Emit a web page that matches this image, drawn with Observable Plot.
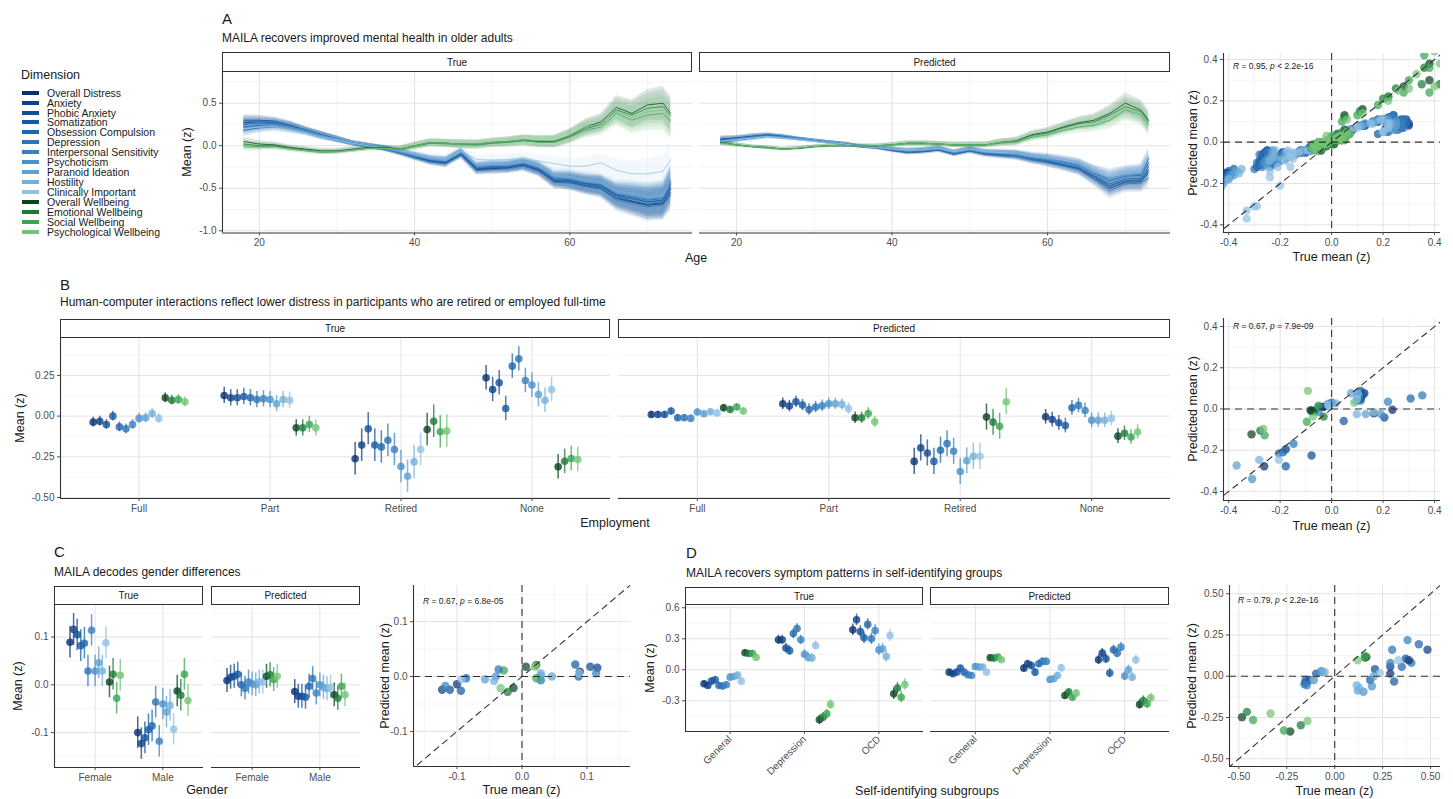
<!DOCTYPE html>
<html><head><meta charset="utf-8">
<script src="https://cdn.jsdelivr.net/npm/d3@7"></script>
<script src="https://cdn.jsdelivr.net/npm/@observablehq/plot@0.6"></script>
<style>
body{margin:0;background:#fff;font-family:"Liberation Sans",Arial,Helvetica,sans-serif;}
#root{position:relative;width:1453px;height:799px;overflow:hidden;background:#fff;}
.t{position:absolute;white-space:nowrap;line-height:1;}
.strip{position:absolute;box-sizing:border-box;border:1.3px solid #333;background:#fff;font-size:10px;color:#1a1a1a;display:flex;align-items:center;justify-content:center;}
.sw{position:absolute;width:17px;height:4px;}
svg{position:absolute;}
</style></head>
<body><div id="root"></div>
<script>
// ---------------- DATA ----------------
const dims = ["Overall Distress","Anxiety","Phobic Anxiety","Somatization","Obsession Compulsion","Depression","Interpersonal Sensitivity","Psychoticism","Paranoid Ideation","Hostility","Clinically Important","Overall Wellbeing","Emotional Wellbeing","Social Wellbeing","Psychological Wellbeing"];
const dimColors = ["#0b306e","#0d3f88","#114d98","#1659a3","#1f66ae","#2b74b8","#3881c1","#4b90c9","#5fa0d2","#76b0da","#92c2e3","#0b4220","#1b7a36","#3aa552","#74c476"];

// Panel A: mean (z) by age, per dimension
const ages = [18,20,22,24,26,28,30,32,34,36,38,40,42,44,46,48,50,52,54,56,58,60,62,64,66,68,70,72,73];
const aTrue = [
 [0.27,0.28,0.27,0.23,0.18,0.12,0.08,0.03,0.00,-0.03,-0.07,-0.13,-0.18,-0.20,-0.10,-0.28,-0.27,-0.26,-0.23,-0.29,-0.42,-0.43,-0.47,-0.50,-0.62,-0.66,-0.70,-0.68,-0.55],
 [0.30,0.30,0.29,0.24,0.18,0.13,0.08,0.03,0.00,-0.03,-0.08,-0.13,-0.18,-0.20,-0.09,-0.28,-0.26,-0.26,-0.22,-0.28,-0.41,-0.42,-0.46,-0.48,-0.60,-0.65,-0.69,-0.67,-0.50],
 [0.22,0.24,0.25,0.22,0.17,0.12,0.08,0.03,0.00,-0.03,-0.07,-0.12,-0.17,-0.19,-0.09,-0.26,-0.25,-0.25,-0.22,-0.27,-0.40,-0.41,-0.45,-0.47,-0.58,-0.62,-0.66,-0.64,-0.45],
 [0.18,0.21,0.22,0.20,0.16,0.11,0.07,0.03,0.00,-0.03,-0.07,-0.12,-0.17,-0.19,-0.08,-0.27,-0.25,-0.24,-0.21,-0.26,-0.38,-0.40,-0.44,-0.46,-0.57,-0.60,-0.64,-0.62,-0.42],
 [0.25,0.26,0.26,0.23,0.18,0.13,0.08,0.03,0.00,-0.03,-0.07,-0.12,-0.16,-0.18,-0.08,-0.25,-0.24,-0.24,-0.21,-0.27,-0.39,-0.40,-0.44,-0.47,-0.59,-0.62,-0.66,-0.65,-0.48],
 [0.28,0.29,0.28,0.24,0.19,0.13,0.08,0.03,0.00,-0.04,-0.08,-0.14,-0.19,-0.21,-0.11,-0.29,-0.28,-0.27,-0.24,-0.30,-0.43,-0.44,-0.48,-0.51,-0.64,-0.68,-0.72,-0.70,-0.58],
 [0.26,0.27,0.27,0.23,0.18,0.12,0.08,0.03,0.00,-0.03,-0.07,-0.12,-0.17,-0.19,-0.09,-0.26,-0.25,-0.25,-0.22,-0.27,-0.40,-0.42,-0.46,-0.48,-0.60,-0.63,-0.67,-0.66,-0.52],
 [0.21,0.23,0.24,0.21,0.17,0.12,0.07,0.03,0.00,-0.03,-0.07,-0.11,-0.16,-0.18,-0.08,-0.25,-0.23,-0.23,-0.20,-0.26,-0.38,-0.39,-0.43,-0.45,-0.56,-0.59,-0.63,-0.61,-0.46],
 [0.24,0.25,0.25,0.22,0.17,0.12,0.08,0.03,0.00,-0.03,-0.07,-0.12,-0.16,-0.18,-0.08,-0.24,-0.23,-0.23,-0.20,-0.25,-0.37,-0.38,-0.42,-0.44,-0.55,-0.58,-0.61,-0.60,-0.44],
 [0.20,0.22,0.23,0.20,0.16,0.11,0.07,0.03,0.00,-0.03,-0.06,-0.11,-0.15,-0.17,-0.07,-0.23,-0.22,-0.22,-0.19,-0.24,-0.35,-0.36,-0.40,-0.43,-0.53,-0.56,-0.60,-0.58,-0.40],
 [0.20,0.22,0.22,0.19,0.15,0.10,0.07,0.03,0.00,-0.02,-0.05,-0.09,-0.13,-0.15,-0.06,-0.16,-0.17,-0.16,-0.15,-0.18,-0.21,-0.24,-0.24,-0.20,-0.29,-0.33,-0.33,-0.30,-0.16],
 [0.05,0.02,0.01,-0.02,-0.04,-0.06,-0.06,-0.04,-0.02,-0.02,-0.04,0.00,0.04,0.03,0.02,0.02,0.04,0.05,0.07,0.05,0.05,0.12,0.22,0.28,0.45,0.38,0.48,0.50,0.38],
 [0.02,0.00,0.00,-0.03,-0.05,-0.07,-0.07,-0.05,-0.03,-0.02,-0.04,0.00,0.03,0.03,0.02,0.01,0.03,0.04,0.06,0.05,0.05,0.11,0.20,0.25,0.42,0.36,0.44,0.46,0.35],
 [0.00,-0.01,-0.01,-0.04,-0.06,-0.08,-0.07,-0.05,-0.03,-0.03,-0.05,-0.01,0.03,0.02,0.01,0.01,0.03,0.04,0.06,0.04,0.04,0.10,0.18,0.22,0.38,0.30,0.36,0.38,0.28],
 [-0.02,-0.02,-0.02,-0.04,-0.06,-0.07,-0.07,-0.05,-0.03,-0.03,-0.04,0.00,0.04,0.03,0.02,0.02,0.04,0.05,0.07,0.06,0.06,0.12,0.22,0.26,0.40,0.33,0.40,0.42,0.30]
];
const aPred = [
 [0.07,0.09,0.11,0.12,0.10,0.08,0.06,0.04,0.02,-0.01,-0.02,-0.05,-0.08,-0.07,-0.05,-0.10,-0.06,-0.10,-0.11,-0.12,-0.16,-0.19,-0.23,-0.27,-0.38,-0.50,-0.43,-0.42,-0.32],
 [0.08,0.09,0.11,0.13,0.11,0.08,0.06,0.04,0.02,-0.01,-0.02,-0.05,-0.07,-0.06,-0.04,-0.09,-0.05,-0.09,-0.10,-0.11,-0.15,-0.18,-0.22,-0.26,-0.36,-0.47,-0.41,-0.40,-0.28],
 [0.05,0.07,0.10,0.12,0.10,0.08,0.06,0.04,0.02,-0.01,-0.02,-0.04,-0.06,-0.05,-0.03,-0.08,-0.04,-0.08,-0.09,-0.10,-0.14,-0.16,-0.19,-0.23,-0.32,-0.41,-0.36,-0.35,-0.20],
 [0.04,0.07,0.09,0.11,0.10,0.08,0.06,0.04,0.02,-0.01,-0.02,-0.04,-0.06,-0.05,-0.03,-0.08,-0.04,-0.08,-0.09,-0.10,-0.13,-0.15,-0.18,-0.22,-0.31,-0.38,-0.34,-0.33,-0.15],
 [0.06,0.08,0.10,0.12,0.10,0.08,0.06,0.04,0.02,-0.01,-0.02,-0.05,-0.07,-0.06,-0.04,-0.09,-0.05,-0.09,-0.10,-0.11,-0.15,-0.17,-0.21,-0.25,-0.35,-0.45,-0.39,-0.38,-0.25],
 [0.07,0.09,0.11,0.13,0.11,0.09,0.06,0.04,0.02,-0.01,-0.03,-0.06,-0.08,-0.07,-0.05,-0.10,-0.06,-0.10,-0.12,-0.13,-0.17,-0.20,-0.24,-0.28,-0.40,-0.53,-0.45,-0.44,-0.38],
 [0.06,0.08,0.10,0.12,0.10,0.08,0.06,0.04,0.02,-0.01,-0.02,-0.05,-0.07,-0.06,-0.04,-0.09,-0.05,-0.09,-0.10,-0.12,-0.16,-0.18,-0.22,-0.26,-0.37,-0.48,-0.42,-0.41,-0.30],
 [0.05,0.07,0.09,0.11,0.10,0.08,0.06,0.04,0.02,-0.01,-0.02,-0.04,-0.06,-0.05,-0.03,-0.08,-0.04,-0.08,-0.09,-0.10,-0.14,-0.16,-0.20,-0.24,-0.33,-0.43,-0.37,-0.36,-0.22],
 [0.06,0.08,0.10,0.11,0.10,0.08,0.06,0.04,0.02,-0.01,-0.02,-0.04,-0.06,-0.05,-0.04,-0.08,-0.05,-0.08,-0.09,-0.11,-0.14,-0.16,-0.20,-0.24,-0.33,-0.42,-0.37,-0.36,-0.24],
 [0.05,0.07,0.09,0.11,0.09,0.08,0.06,0.04,0.02,-0.01,-0.02,-0.04,-0.06,-0.05,-0.03,-0.07,-0.04,-0.07,-0.08,-0.09,-0.13,-0.15,-0.18,-0.22,-0.31,-0.39,-0.34,-0.33,-0.18],
 [0.05,0.07,0.09,0.11,0.09,0.07,0.05,0.03,0.02,-0.01,-0.02,-0.04,-0.05,-0.05,-0.03,-0.07,-0.04,-0.07,-0.08,-0.09,-0.12,-0.14,-0.17,-0.21,-0.31,-0.37,-0.33,-0.31,-0.12],
 [0.04,0.01,-0.01,-0.02,-0.04,-0.03,-0.01,0.00,0.00,0.00,0.00,0.01,0.03,0.03,0.02,0.01,0.01,0.01,0.04,0.06,0.13,0.16,0.22,0.27,0.30,0.38,0.50,0.42,0.30],
 [0.04,0.01,-0.01,-0.02,-0.04,-0.03,-0.01,0.00,0.00,0.00,0.00,0.01,0.03,0.03,0.02,0.01,0.01,0.01,0.04,0.05,0.12,0.15,0.21,0.26,0.28,0.36,0.46,0.40,0.28],
 [0.03,0.01,-0.01,-0.03,-0.04,-0.03,-0.01,0.00,0.00,0.00,0.00,0.01,0.02,0.02,0.02,0.01,0.01,0.01,0.03,0.04,0.10,0.13,0.18,0.22,0.24,0.30,0.42,0.36,0.24],
 [0.03,0.01,-0.01,-0.02,-0.04,-0.03,-0.01,0.00,0.00,0.00,0.00,0.01,0.03,0.03,0.02,0.01,0.01,0.01,0.04,0.05,0.11,0.14,0.20,0.25,0.27,0.33,0.44,0.38,0.26]
];
// ribbon half-widths (blue / green dimensions)
const aTrueBlueHW  = [0.07,0.06,0.05,0.05,0.04,0.04,0.035,0.03,0.03,0.03,0.035,0.04,0.045,0.05,0.05,0.055,0.06,0.06,0.065,0.07,0.08,0.09,0.10,0.11,0.13,0.15,0.17,0.18,0.19];
const aTrueGreenHW = [0.05,0.04,0.035,0.03,0.03,0.03,0.03,0.03,0.03,0.03,0.035,0.04,0.045,0.045,0.05,0.05,0.05,0.055,0.06,0.065,0.07,0.08,0.09,0.10,0.14,0.16,0.18,0.20,0.20];
const aPredBlueHW  = [0.04,0.03,0.03,0.025,0.025,0.02,0.02,0.02,0.02,0.02,0.02,0.025,0.03,0.03,0.03,0.03,0.035,0.035,0.04,0.045,0.05,0.055,0.06,0.07,0.08,0.10,0.10,0.11,0.12];
const aPredGreenHW = [0.03,0.025,0.02,0.02,0.02,0.02,0.02,0.02,0.02,0.02,0.02,0.025,0.03,0.03,0.03,0.03,0.035,0.035,0.04,0.045,0.05,0.055,0.06,0.07,0.08,0.10,0.12,0.12,0.12];

// Panel B: employment
const bCats = ["Full","Part","Retired","None"];
const bTrueFull    = [-0.037,-0.031,-0.051,0.000,-0.066,-0.078,-0.051,-0.014,-0.010,0.016,-0.014,0.113,0.098,0.102,0.088];
const bTruePart    = [0.127,0.113,0.113,0.121,0.113,0.102,0.107,0.102,0.076,0.102,0.098,-0.072,-0.072,-0.051,-0.072];
const bTrueRetired = [-0.262,-0.178,-0.078,-0.178,-0.189,-0.148,-0.205,-0.309,-0.369,-0.281,-0.205,-0.082,-0.031,-0.096,-0.092];
const bTrueNone    = [0.236,0.164,0.205,0.047,0.307,0.352,0.219,0.191,0.133,0.098,0.164,-0.311,-0.277,-0.260,-0.266];
const bPredFull    = [0.010,0.010,0.010,0.031,-0.010,-0.010,-0.014,0.025,0.014,0.027,0.019,0.051,0.041,0.056,0.031];
const bPredPart    = [0.076,0.062,0.088,0.068,0.041,0.056,0.064,0.076,0.076,0.072,0.047,-0.010,-0.010,0.016,-0.035];
const bPredRetired = [-0.278,-0.195,-0.226,-0.278,-0.210,-0.169,-0.216,-0.340,-0.274,-0.247,-0.247,-0.006,-0.037,-0.062,0.088];
const bPredNone    = [-0.004,-0.021,-0.041,-0.058,0.051,0.066,0.035,-0.025,-0.025,-0.025,-0.014,-0.123,-0.105,-0.128,-0.097];
const bTrueErr = [0.03,0.05,0.10,0.075];
const bPredErr = [0.02,0.035,0.08,0.045];

// Panel C: gender
const cCats = ["Female","Male"];
const cTrueFemale = [0.089,0.116,0.105,0.082,0.087,0.029,0.114,0.029,0.046,0.029,0.088,0.006,0.022,-0.028,0.020];
const cTrueMale   = [-0.100,-0.123,-0.111,-0.094,-0.086,-0.036,-0.118,-0.040,-0.057,-0.043,-0.093,-0.013,-0.022,0.022,-0.033];
const cPredFemale = [0.009,0.016,0.018,0.022,0.000,-0.007,0.006,0.002,0.000,0.006,0.006,0.018,0.021,0.011,0.018];
const cPredMale   = [-0.014,-0.024,-0.024,-0.026,-0.003,0.013,-0.017,0.000,-0.005,-0.008,-0.005,-0.021,-0.028,-0.003,-0.021];
const cTrueErr = [0.033,0.033];
const cPredErr = [0.025,0.025];

// Panel D: self-identifying subgroups
const dCats = ["General","Depression","OCD"];
const dTrueGeneral    = [-0.135,-0.152,-0.110,-0.097,-0.152,-0.158,-0.145,-0.071,-0.065,-0.052,-0.110,0.165,0.158,0.158,0.120];
const dTrueDepression = [0.290,0.290,0.210,0.185,0.350,0.400,0.290,0.150,0.120,0.115,0.235,-0.484,-0.458,-0.426,-0.335];
const dTrueOCD        = [0.387,0.484,0.371,0.310,0.439,0.300,0.380,0.194,0.203,0.129,0.332,-0.232,-0.177,-0.265,-0.142];
const dPredGeneral    = [-0.023,-0.039,-0.023,0.016,-0.023,-0.048,-0.055,0.032,0.026,0.026,-0.023,0.116,0.113,0.123,0.097];
const dPredDepression = [0.016,0.058,0.042,-0.023,0.058,0.081,0.081,-0.094,-0.087,-0.055,0.019,-0.248,-0.216,-0.265,-0.226];
const dPredOCD        = [0.097,0.161,0.106,-0.032,0.194,0.161,0.219,-0.061,0.000,-0.071,0.097,-0.335,-0.297,-0.329,-0.271];
const dTrueErr = [0.03,0.045,0.055];
const dPredErr = [0.025,0.035,0.045];

// correlation annotations
const rLabelA = "<i>R</i> = 0.95, <i>p</i> &lt; 2.2e-16";
const rLabelB = "<i>R</i> = 0.67, <i>p</i> = 7.9e-09";
const rLabelC = "<i>R</i> = 0.67, <i>p</i> = 6.8e-05";
const rLabelD = "<i>R</i> = 0.79, <i>p</i> &lt; 2.2e-16";

// axis ticks
const aXTicks = [20,40,60], aXMinor = [30,50,70];
const aYTicks = [-1,-0.5,0,0.5], aYMinor = [-0.75,-0.25,0.25,0.75];
const s4Ticks = [-0.4,-0.2,0,0.2,0.4], s4Minor = [-0.3,-0.1,0.1,0.3];
const bYTicks = [-0.5,-0.25,0,0.25], bYMinor = [-0.375,-0.125,0.125,0.375];
const cYTicks = [-0.1,0,0.1], cYMinor = [-0.15,-0.05,0.05,0.15];
const dYTicks = [-0.3,0,0.3,0.6], dYMinor = [-0.45,-0.15,0.15,0.45];
const dsTicks = [-0.5,-0.25,0,0.25,0.5], dsMinor = [-0.375,-0.125,0.125,0.375];

// ---------------- HELPERS ----------------
const FONT = '"Liberation Sans", Arial, Helvetica, sans-serif';
const root = document.getElementById("root");
function txt(s, x, y, o = {}) {
  const d = document.createElement("div");
  d.className = "t";
  d.innerHTML = s;
  d.style.left = x + "px"; d.style.top = y + "px";
  d.style.fontSize = (o.size || 12) + "px";
  d.style.color = o.color || "#1a1a1a";
  const ax = o.anchor === "start" ? "0" : o.anchor === "end" ? "-100%" : "-50%";
  d.style.transform = `translate(${ax},-50%)` + (o.rotate ? ` rotate(${o.rotate}deg)` : "");
  root.appendChild(d);
}
function strip(label, x0, x1, y0, y1) {
  const d = document.createElement("div");
  d.className = "strip";
  d.textContent = label;
  Object.assign(d.style, {left: x0 + "px", top: y0 + "px", width: (x1 - x0) + "px", height: (y1 - y0) + "px"});
  root.appendChild(d);
}
const f1 = d => d.toFixed(1), f2 = d => d.toFixed(2);

function makePlot(o) {
  const mL = 50, mR = 14, mT = 10, mB = o.mB || 34;
  const w = o.px[1] - o.px[0], h = o.py[1] - o.py[0];
  const marks = [
    Plot.gridX(o.xMinor || [], {stroke: "#f1f1f1", strokeOpacity: 1, strokeWidth: 0.7}),
    Plot.gridY(o.yMinor || [], {stroke: "#f1f1f1", strokeOpacity: 1, strokeWidth: 0.7}),
    Plot.gridX(o.xTicks, {stroke: "#e3e3e3", strokeOpacity: 1, strokeWidth: 1}),
    Plot.gridY(o.yTicks, {stroke: "#e3e3e3", strokeOpacity: 1, strokeWidth: 1}),
    ...o.marks,
    Plot.ruleY([o.yDomain[0]], {stroke: "#333", strokeWidth: 1.1}),
    Plot.axisX(o.xTicks, {tickSize: 3, tickPadding: 3, tickFormat: o.xFmt, tickRotate: o.rot || 0, color: "#4d4d4d", label: null, fontSize: 10})
  ];
  if (o.showY) {
    marks.push(Plot.ruleX([o.xDomain[0]], {stroke: "#333", strokeWidth: 1.1}));
    marks.push(Plot.axisY(o.yTicks, {tickSize: 3, tickPadding: 3, tickFormat: o.yFmt, color: "#4d4d4d", label: null, fontSize: 10}));
  }
  const svg = Plot.plot({
    width: w + mL + mR, height: h + mT + mB,
    marginLeft: mL, marginRight: mR, marginTop: mT, marginBottom: mB,
    x: {domain: o.xDomain, axis: null}, y: {domain: o.yDomain, axis: null},
    color: {domain: dims, range: dimColors},
    style: {background: "transparent", fontFamily: FONT, fontSize: "10px", color: "#4d4d4d", overflow: "visible"},
    marks
  });
  svg.style.position = "absolute";
  svg.style.left = (o.px[0] - mL) + "px";
  svg.style.top = (o.py[0] - mT) + "px";
  svg.style.maxWidth = "none";
  root.appendChild(svg);
  return svg;
}

// ---------------- ROWS ----------------
function ageRows(vals, hwBlue, hwGreen) {
  const rows = [];
  vals.forEach((arr, di) => arr.forEach((v, i) => {
    const hw = (di < 11 ? hwBlue : hwGreen)[i];
    rows.push({age: ages[i], v, lo: v - hw, hi: v + hw, dim: dims[di]});
  }));
  return rows;
}
function dodgeRows(cats, errs, step) {
  const rows = [];
  cats.forEach((vals, ci) => vals.forEach((v, di) =>
    rows.push({x: ci + 1 + (di - 7) * step, v, lo: v - errs[ci], hi: v + errs[ci], dim: dims[di]})));
  return rows;
}
function pairRows(tCats, pCats) {
  const rows = [];
  tCats.forEach((vals, ci) => vals.forEach((v, di) => rows.push({tx: v, py: pCats[ci][di], dim: dims[di]})));
  return rows;
}
function pairAge() {
  const rows = [];
  aTrue.forEach((arr, di) => arr.forEach((v, i) => rows.push({tx: v, py: aPred[di][i], dim: dims[di]})));
  return rows;
}

const lineMarks = rows => [
  Plot.areaY(rows, {x: "age", y1: "lo", y2: "hi", z: "dim", fill: "dim", fillOpacity: 0.12}),
  Plot.line(rows, {x: "age", y: "v", z: "dim", stroke: "dim", strokeWidth: 0.9, strokeOpacity: 0.85})
];
const dotMarks = rows => [
  Plot.ruleX(rows, {x: "x", y1: "lo", y2: "hi", stroke: "dim", strokeWidth: 1.5, strokeOpacity: 0.75}),
  Plot.dot(rows, {x: "x", y: "v", fill: "dim", r: 3.8, fillOpacity: 0.8})
];
const scatterMarks = (rows, dom) => [
  Plot.dot(rows, {x: "tx", y: "py", fill: "dim", r: 4.2, fillOpacity: 0.72, clip: true}),
  Plot.ruleY([0], {stroke: "#333", strokeDasharray: "7,5", strokeWidth: 1.1}),
  Plot.ruleX([0], {stroke: "#333", strokeDasharray: "7,5", strokeWidth: 1.1}),
  Plot.line(dom, {x: d => d, y: d => d, stroke: "#333", strokeDasharray: "6,5", strokeWidth: 1.1, clip: true})
];

// ---------------- LEGEND ----------------
txt("Dimension", 21, 75, {anchor: "start", size: 12.5});
dims.forEach((d, i) => {
  const y = 92.7 + i * 9.93;
  const s = document.createElement("div");
  s.className = "sw";
  Object.assign(s.style, {left: "22px", top: (y - 2) + "px", background: dimColors[i]});
  root.appendChild(s);
  txt(d, 47, y, {anchor: "start", size: 10.5});
});

// ---------------- PANEL A ----------------
txt("A", 222, 18, {anchor: "start", size: 15});
txt("MAILA recovers improved mental health in older adults", 222, 38, {anchor: "start", size: 12});
const aXDom = [15.25, 75.8], aYDom = [-1.026, 0.861];
strip("True", 222, 692, 52, 72);
strip("Predicted", 699, 1170, 52, 72);
makePlot({px: [222, 692], py: [72, 232.5], xDomain: aXDom, yDomain: aYDom, xTicks: aXTicks, xMinor: aXMinor, yTicks: aYTicks, yMinor: aYMinor, yFmt: f1, showY: true, marks: lineMarks(ageRows(aTrue, aTrueBlueHW, aTrueGreenHW))});
makePlot({px: [699, 1170], py: [72, 232.5], xDomain: aXDom, yDomain: aYDom, xTicks: aXTicks, xMinor: aXMinor, yTicks: aYTicks, yMinor: aYMinor, showY: false, marks: lineMarks(ageRows(aPred, aPredBlueHW, aPredGreenHW))});
txt("Mean (z)", 187, 152, {size: 12.5, rotate: -90});
txt("Age", 696, 258, {size: 12.5});
// A scatter
makePlot({px: [1223, 1440], py: [53, 232], xDomain: [-0.42, 0.423], yDomain: [-0.437, 0.429], xTicks: s4Ticks, xMinor: s4Minor, yTicks: s4Ticks, yMinor: s4Minor, xFmt: f1, yFmt: f1, showY: true, marks: scatterMarks(pairAge(), [-0.45, 0.45])});
txt(rLabelA, 1233, 66, {anchor: "start", size: 8.5, color: "#222"});
txt("Predicted mean (z)", 1193, 142.5, {size: 12.5, rotate: -90});
txt("True mean (z)", 1331.5, 257, {size: 12.5});

// ---------------- PANEL B ----------------
txt("B", 60, 284, {anchor: "start", size: 15});
txt("Human-computer interactions reflect lower distress in participants who are retired or employed full-time", 60, 302, {anchor: "start", size: 12});
const bXDom = [0.4, 4.6], bYDom = [-0.506, 0.477];
const catFmt = cats => i => cats[i - 1];
strip("True", 60, 610, 319, 338);
strip("Predicted", 618, 1170, 319, 338);
makePlot({px: [60, 610], py: [338, 498], xDomain: bXDom, yDomain: bYDom, xTicks: [1,2,3,4], xFmt: catFmt(bCats), yTicks: bYTicks, yMinor: bYMinor, yFmt: f2, showY: true, marks: dotMarks(dodgeRows([bTrueFull, bTruePart, bTrueRetired, bTrueNone], bTrueErr, 0.05))});
makePlot({px: [618, 1170], py: [338, 498], xDomain: bXDom, yDomain: bYDom, xTicks: [1,2,3,4], xFmt: catFmt(bCats), yTicks: bYTicks, yMinor: bYMinor, showY: false, marks: dotMarks(dodgeRows([bPredFull, bPredPart, bPredRetired, bPredNone], bPredErr, 0.05))});
txt("Mean (z)", 20, 418, {size: 12.5, rotate: -90});
txt("Employment", 615, 523, {size: 12.5});
makePlot({px: [1223, 1440], py: [318, 500], xDomain: [-0.42, 0.423], yDomain: [-0.444, 0.439], xTicks: s4Ticks, xMinor: s4Minor, yTicks: s4Ticks, yMinor: s4Minor, xFmt: f1, yFmt: f1, showY: true, marks: scatterMarks(pairRows([bTrueFull, bTruePart, bTrueRetired, bTrueNone], [bPredFull, bPredPart, bPredRetired, bPredNone]), [-0.45, 0.45])});
txt(rLabelB, 1233, 326, {anchor: "start", size: 8.5, color: "#222"});
txt("Predicted mean (z)", 1193, 409, {size: 12.5, rotate: -90});
txt("True mean (z)", 1331.5, 526, {size: 12.5});

// ---------------- PANEL C ----------------
txt("C", 54, 551, {anchor: "start", size: 15});
txt("MAILA decodes gender differences", 54, 572, {anchor: "start", size: 12});
const cXDom = [0.4, 2.6], cYDom = [-0.173, 0.166];
strip("True", 54, 203, 586, 605);
strip("Predicted", 211, 360, 586, 605);
makePlot({px: [54, 203], py: [605, 767], xDomain: cXDom, yDomain: cYDom, xTicks: [1,2], xFmt: catFmt(cCats), yTicks: cYTicks, yMinor: cYMinor, yFmt: f1, showY: true, marks: dotMarks(dodgeRows([cTrueFemale, cTrueMale], cTrueErr, 0.053))});
makePlot({px: [211, 360], py: [605, 767], xDomain: cXDom, yDomain: cYDom, xTicks: [1,2], xFmt: catFmt(cCats), yTicks: cYTicks, yMinor: cYMinor, showY: false, marks: dotMarks(dodgeRows([cPredFemale, cPredMale], cPredErr, 0.053))});
txt("Mean (z)", 18, 686, {size: 12.5, rotate: -90});
txt("Gender", 207, 790, {size: 12.5});
makePlot({px: [413, 630], py: [585, 766], xDomain: [-0.167, 0.167], yDomain: [-0.164, 0.166], xTicks: cYTicks, xMinor: cYMinor, yTicks: cYTicks, yMinor: cYMinor, xFmt: f1, yFmt: f1, showY: true, marks: scatterMarks(pairRows([cTrueFemale, cTrueMale], [cPredFemale, cPredMale]), [-0.2, 0.2])});
txt(rLabelC, 423, 601, {anchor: "start", size: 8.5, color: "#222"});
txt("Predicted mean (z)", 385, 675.5, {size: 12.5, rotate: -90});
txt("True mean (z)", 521.5, 790, {size: 12.5});

// ---------------- PANEL D ----------------
txt("D", 686, 552, {anchor: "start", size: 15});
txt("MAILA recovers symptom patterns in self-identifying groups", 686, 573, {anchor: "start", size: 12});
const dXDom = [0.4, 3.6], dYDom = [-0.597, 0.622];
strip("True", 685, 923, 587, 605);
strip("Predicted", 930, 1169, 587, 605);
makePlot({px: [685, 923], py: [605, 731], mB: 60, xDomain: dXDom, yDomain: dYDom, xTicks: [1,2,3], xFmt: catFmt(dCats), rot: -45, yTicks: dYTicks, yMinor: dYMinor, yFmt: f1, showY: true, marks: dotMarks(dodgeRows([dTrueGeneral, dTrueDepression, dTrueOCD], dTrueErr, 0.05))});
makePlot({px: [930, 1169], py: [605, 731], mB: 60, xDomain: dXDom, yDomain: dYDom, xTicks: [1,2,3], xFmt: catFmt(dCats), rot: -45, yTicks: dYTicks, yMinor: dYMinor, showY: false, marks: dotMarks(dodgeRows([dPredGeneral, dPredDepression, dPredOCD], dPredErr, 0.05))});
txt("Mean (z)", 650, 668, {size: 12.5, rotate: -90});
txt("Self-identifying subgroups", 927, 791, {size: 12.5});
makePlot({px: [1229, 1440], py: [585, 766], xDomain: [-0.549, 0.552], yDomain: [-0.547, 0.55], xTicks: dsTicks, xMinor: dsMinor, yTicks: dsTicks, yMinor: dsMinor, xFmt: f2, yFmt: f2, showY: true, marks: scatterMarks(pairRows([dTrueGeneral, dTrueDepression, dTrueOCD], [dPredGeneral, dPredDepression, dPredOCD]), [-0.6, 0.6])});
txt(rLabelD, 1238, 600, {anchor: "start", size: 8.5, color: "#222"});
txt("Predicted mean (z)", 1192, 675.5, {size: 12.5, rotate: -90});
txt("True mean (z)", 1334.5, 791, {size: 12.5});
</script>
</body></html>
